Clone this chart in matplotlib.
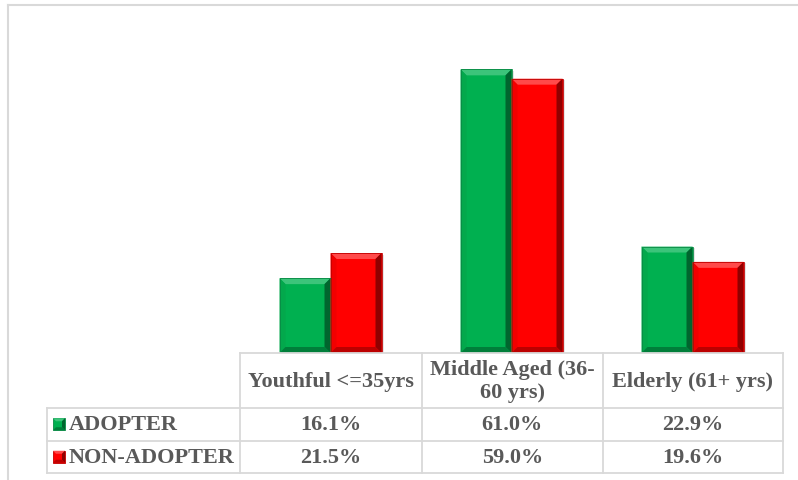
import matplotlib
matplotlib.use("Agg")
import matplotlib.pyplot as plt
from matplotlib.patches import Polygon, Rectangle
from matplotlib.lines import Line2D

# ---- data ----
categories = ["Youthful <=35yrs", "Middle Aged (36-\n60 yrs)", "Elderly (61+ yrs)"]
series_names = ["ADOPTER", "NON-ADOPTER"]
adopter = [16.1, 61.0, 22.9]
non_adopter = [21.5, 59.0, 19.6]
series_values = [adopter, non_adopter]

# ---- style ----
W, H, DPI = 798, 480, 100
TEXT = "#595959"
GRID = "#D9D9D9"
FONT = "Liberation Serif"
FS = 16
# base, top facet, left facet, right facet, bottom facet, outline
palettes = [
    ("#00B050", "#3CC47A", "#03A84C", "#00652E", "#007E3A", "#0A8A45"),
    ("#FF0000", "#FF4A4A", "#F20000", "#900000", "#BC0000", "#C00000"),
]

fig = plt.figure(figsize=(W / DPI, H / DPI), dpi=DPI)

# layout in pixels (top-left origin)
col_edges = [240, 421.5, 603, 783]
label_left = 47
plot_top, base_y = 27.5, 353
row_edges = [353, 408, 440.5, 473]

ax = fig.add_axes([col_edges[0] / W, 1 - base_y / H,
                   (col_edges[-1] - col_edges[0]) / W, (base_y - plot_top) / H])
ax.set_xlim(-0.5, len(categories) - 0.5)
ax.set_ylim(0, 70)
ax.axis("off")

bar_w = 51 / 181.0
px_x = (col_edges[-1] - col_edges[0]) / 3.0       # pixels per category unit
px_y = (base_y - plot_top) / 70.0                  # pixels per percent


def bevel(axis, x0, y0, w, h, pal, bx, by, zorder=3):
    base, top, left, right, bottom, edge = pal
    x1, y1 = x0 + w, y0 + h
    facets = [
        ([(x0, y1), (x1, y1), (x1 - bx, y1 - by), (x0 + bx, y1 - by)], top),
        ([(x0, y0), (x0, y1), (x0 + bx, y1 - by), (x0 + bx, y0 + by)], left),
        ([(x1, y0), (x1, y1), (x1 - bx, y1 - by), (x1 - bx, y0 + by)], right),
        ([(x0, y0), (x1, y0), (x1 - bx, y0 + by), (x0 + bx, y0 + by)], bottom),
    ]
    for pts, c in facets:
        axis.add_patch(Polygon(pts, closed=True, facecolor=c, edgecolor="none",
                               zorder=zorder + 0.1))
    axis.add_patch(Rectangle((x0, y0), w, h, facecolor="none", edgecolor=edge,
                             linewidth=0.6, zorder=zorder + 0.2))


for si, vals in enumerate(series_values):
    pal = palettes[si]
    offs = (si - 0.5) * bar_w
    xs = [i + offs for i in range(len(vals))]
    bars = ax.bar(xs, vals, width=bar_w, color=pal[0], edgecolor="none", zorder=3)
    for b in bars:
        # soft drop shadow
        ax.add_patch(Rectangle((b.get_x() + 2 / px_x, 0), b.get_width(),
                               b.get_height() - 1.5 / px_y, facecolor="#000000",
                               alpha=0.10, edgecolor="none", zorder=2))
        bevel(ax, b.get_x(), 0, b.get_width(), b.get_height(), pal,
              6 / px_x, 6 / px_y)

# ---- overlay in pixel coordinates for frame and data table ----
ov = fig.add_axes([0, 0, 1, 1], zorder=5)
ov.set_xlim(0, W)
ov.set_ylim(H, 0)
ov.axis("off")
ov.patch.set_alpha(0)

# outer chart frame
ov.add_line(Line2D([8, 8], [4.5, H], color=GRID, lw=1.5))
ov.add_line(Line2D([8, W], [4.5, 4.5], color=GRID, lw=1.5))

lw = 1.3
# header row lines
ov.add_line(Line2D([col_edges[0], col_edges[-1]], [row_edges[0]] * 2, color=GRID, lw=lw))
for r in row_edges[1:]:
    ov.add_line(Line2D([label_left, col_edges[-1]], [r, r], color=GRID, lw=lw))
for c in col_edges:
    ov.add_line(Line2D([c, c], [row_edges[0], row_edges[-1]], color=GRID, lw=lw))
ov.add_line(Line2D([label_left, label_left], [row_edges[1], row_edges[-1]], color=GRID, lw=lw))

# category headers
for i, cat in enumerate(categories):
    cx = (col_edges[i] + col_edges[i + 1]) / 2
    cy = (row_edges[0] + row_edges[1]) / 2
    ov.text(cx, cy + 1, cat, ha="center", va="center", fontsize=FS, family=FONT,
            fontweight="bold", color=TEXT, linespacing=1.2)

# series rows with legend keys and values
for si, (name, vals) in enumerate(zip(series_names, series_values)):
    ry = (row_edges[si + 1] + row_edges[si + 2]) / 2
    k = 12
    kx, ky = 53, ry - k / 2
    # legend key drawn in pixel space (y grows downward)
    pal = palettes[si]
    ov.add_patch(Rectangle((kx, ky), k, k, facecolor=pal[0], edgecolor=pal[5], lw=0.6))
    ov.add_patch(Polygon([(kx, ky), (kx + k, ky), (kx + k - 3, ky + 3), (kx + 3, ky + 3)],
                         facecolor=pal[1], edgecolor="none"))
    ov.add_patch(Polygon([(kx + k, ky), (kx + k, ky + k), (kx + k - 3, ky + k - 3), (kx + k - 3, ky + 3)],
                         facecolor=pal[3], edgecolor="none"))
    ov.add_patch(Polygon([(kx, ky + k), (kx + k, ky + k), (kx + k - 3, ky + k - 3), (kx + 3, ky + k - 3)],
                         facecolor=pal[4], edgecolor="none"))
    ov.text(69, ry + 1, name, ha="left", va="center", fontsize=FS, family=FONT,
            fontweight="bold", color=TEXT)
    for i, v in enumerate(vals):
        cx = (col_edges[i] + col_edges[i + 1]) / 2
        ov.text(cx, ry + 1, f"{v:.1f}%", ha="center", va="center", fontsize=FS,
                family=FONT, fontweight="bold", color=TEXT)

fig.savefig("out.png", dpi=DPI, facecolor="white")
